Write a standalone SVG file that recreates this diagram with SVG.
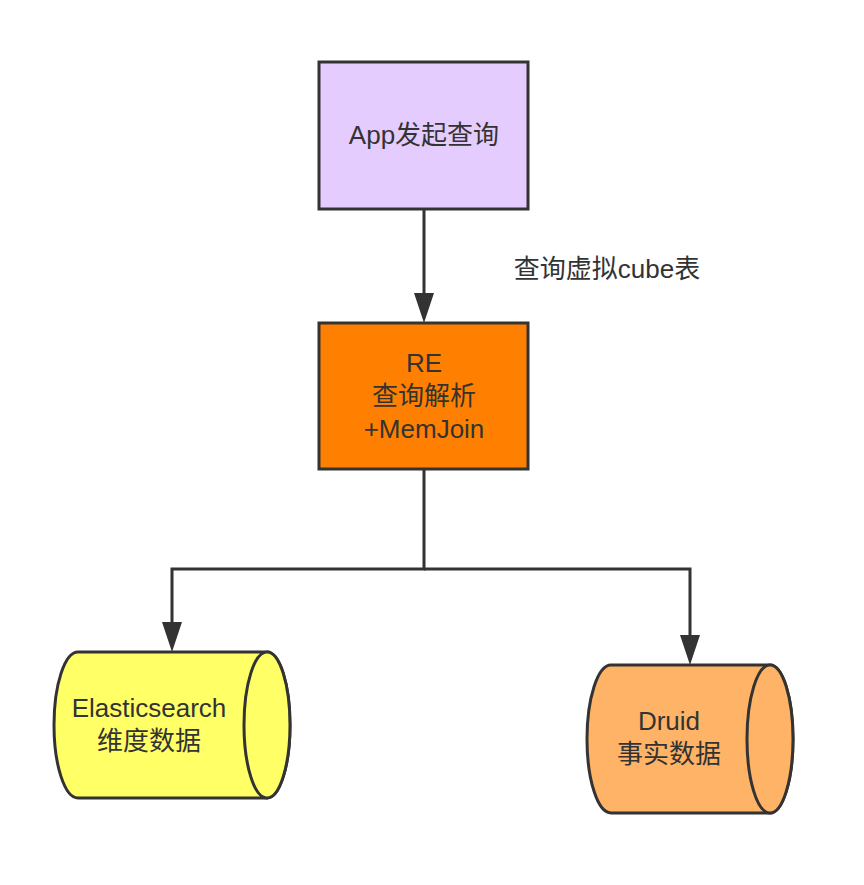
<svg xmlns="http://www.w3.org/2000/svg" width="864" height="885" viewBox="0 0 864 885">
<defs>
<style>
.box{stroke:#333;stroke-width:3}
.line{fill:none;stroke:#333;stroke-width:3}
text{font-family:"Liberation Sans","Noto Sans CJK SC",sans-serif;font-size:26px;fill:#333;text-anchor:middle}
</style>
</defs>
<rect width="864" height="885" fill="#fff"/>
<g id="connectors">
<path class="line" d="M424,209 V296"/>
<path d="M414,293 L424,323 L434,293 Z" fill="#333"/>
<path class="line" d="M424,470 V569 H172 V625"/>
<path d="M162,622 L172,652 L182,622 Z" fill="#333"/>
<path class="line" d="M424,569 H690 V638"/>
<path d="M680,635 L690,665 L700,635 Z" fill="#333"/>
</g>
<g id="label-cube">
<text x="607" y="278">查询虚拟cube表</text>
</g>
<g id="app">
<rect class="box" x="319" y="62" width="209" height="147" fill="#E5CCFF"/>
<text x="424" y="144">App发起查询</text>
</g>
<g id="re">
<rect class="box" x="319" y="323" width="209" height="146" fill="#FF8000"/>
<text x="424" y="372">RE</text>
<text x="424" y="405">查询解析</text>
<text x="424" y="438">+MemJoin</text>
</g>
<g id="es">
<path class="box" fill="#FFFF66" d="M78,652 H267 A23,73 0 0 1 267,798 H78 A24,73 0 0 1 78,652 Z"/>
<ellipse class="box" cx="267" cy="725" rx="23" ry="73" fill="#FFFF66"/>
<text x="149" y="717">Elasticsearch</text>
<text x="149" y="750">维度数据</text>
</g>
<g id="druid">
<path class="box" fill="#FFB366" d="M611,665 H770 A23,74 0 0 1 770,813 H611 A24,74 0 0 1 611,665 Z"/>
<ellipse class="box" cx="770" cy="739" rx="23" ry="74" fill="#FFB366"/>
<text x="669" y="730">Druid</text>
<text x="669" y="763">事实数据</text>
</g>
</svg>
